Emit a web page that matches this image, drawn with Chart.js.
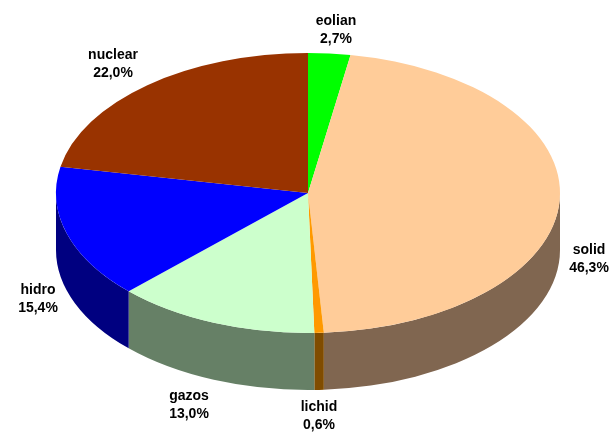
<!DOCTYPE html>
<html>
<head>
<meta charset="utf-8">
<title>Pie</title>
<script src="https://cdn.jsdelivr.net/npm/chart.js@4"></script>
<style>
  html, body { margin: 0; padding: 0; background: #fff; }
  canvas { display: block; }
</style>
</head>
<body>
<canvas id="chartPie" width="614" height="435"></canvas>
<script>
const categories = ["eolian", "solid", "lichid", "gazos", "hidro", "nuclear"];
const shares = [2.7, 46.3, 0.6, 13.0, 15.4, 22.0];
const topColors = ["#00ff00", "#ffcc99", "#ff9900", "#ccffcc", "#0000ff", "#993300"];
const sideColors = ["#008000", "#806650", "#804c00", "#668066", "#000080", "#4c1900"];
// label centres
const labelX = [336, 589, 319, 189, 38, 113];
const labelY = [21, 250, 407, 396, 290, 55];

// the flat pie gets squashed into this ellipse
const centerX = 308, centerY = 193, radiusX = 252, radiusY = 140, depth = 57;

const tilted = {
  id: "tilted",
  beforeDatasetsDraw(chart) {
    const ctx = chart.ctx;
    const arcs = chart.getDatasetMeta(0).data;
    const { x, y, outerRadius: r } = arcs[0];
    const drop = depth * r / radiusY;
    ctx.save();
    ctx.translate(centerX, centerY);
    ctx.scale(radiusX / r, radiusY / r);
    ctx.translate(-x, -y);
    // side wall, only the front half shows
    arcs.forEach((arc, i) => {
      const from = Math.max(arc.startAngle, 0);
      const to = Math.min(arc.endAngle, Math.PI);
      if (to <= from) return;
      ctx.beginPath();
      ctx.arc(x, y, r, from, to);
      ctx.arc(x, y + drop, r, to, from, true);
      ctx.closePath();
      ctx.fillStyle = sideColors[i];
      ctx.fill();
    });
  },
  afterDatasetsDraw(chart) {
    const ctx = chart.ctx;
    ctx.restore();
    ctx.save();
    ctx.fillStyle = "#000";
    ctx.font = "bold 14px 'Liberation Sans'";
    ctx.textAlign = "center";
    ctx.textBaseline = "middle";
    categories.forEach((name, i) => {
      ctx.fillText(name, labelX[i], labelY[i]);
      ctx.fillText(shares[i].toFixed(1).replace(".", ",") + "%", labelX[i], labelY[i] + 18);
    });
    ctx.restore();
  }
};

new Chart(document.getElementById("chartPie"), {
  type: "pie",
  data: {
    labels: categories,
    datasets: [{
      data: shares,
      backgroundColor: topColors,
      borderWidth: 0,
      clip: false
    }]
  },
  options: {
    responsive: false,
    animation: false,
    layout: { padding: 17 },
    plugins: { legend: { display: false }, tooltip: { enabled: false } }
  },
  plugins: [tilted]
});
</script>
</body>
</html>
